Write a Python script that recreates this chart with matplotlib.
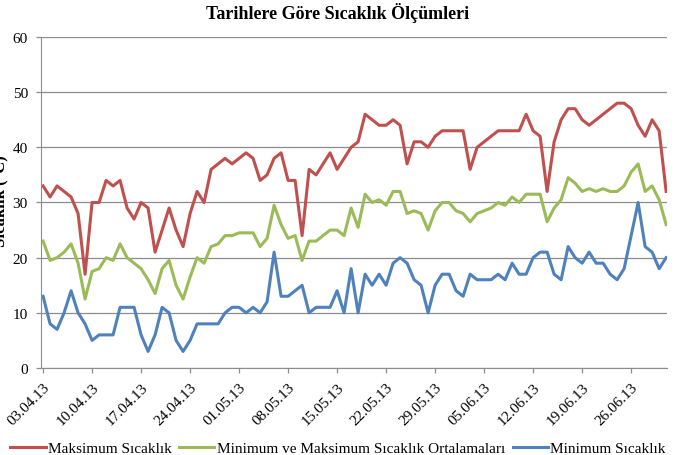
# Tarihlere göre sıcaklık ölçümleri (03.04.13 - 01.07.13)

import matplotlib
matplotlib.use("Agg")
import matplotlib.pyplot as plt
import matplotlib.dates as mdates
import pandas as pd

plt.rcParams['font.family'] = ['Liberation Serif', 'DejaVu Serif']

# günlük tarihler
tarih = pd.date_range("2013-04-03", "2013-07-01", freq="D")

maks = [33, 31, 33, 32, 31, 28, 17, 30, 30, 34, 33, 34, 29, 27, 30, 29,
        21, 25, 29, 25, 22, 28, 32, 30, 36, 37, 38, 37, 38, 39, 38, 34,
        35, 38, 39, 34, 34, 24, 36, 35, 37, 39, 36, 38, 40, 41, 46,
        45, 44, 44, 45, 44, 37, 41, 41, 40, 42, 43, 43, 43, 43, 36, 40,
        41, 42, 43, 43, 43, 43, 46, 43, 42, 32, 41, 45, 47, 47, 45, 44,
        45, 46, 47, 48, 48, 47, 44, 42, 45, 43, 32]

ort = [23, 19.5, 20, 21, 22.5, 19, 12.5, 17.5, 18, 20, 19.5, 22.5, 20, 19, 18, 16,
       13.5, 18, 19.5, 15, 12.5, 16.5, 20, 19, 22, 22.5, 24, 24, 24.5, 24.5, 24.5, 22,
       23.5, 29.5, 26, 23.5, 24, 19.5, 23, 23, 24, 25, 25, 24, 29, 25.5, 31.5,
       30, 30.5, 29.5, 32, 32, 28, 28.5, 28, 25, 28.5, 30, 30, 28.5, 28, 26.5, 28,
       28.5, 29, 30, 29.5, 31, 30, 31.5, 31.5, 31.5, 26.5, 29, 30.5, 34.5, 33.5, 32, 32.5,
       32, 32.5, 32, 32, 33, 35.5, 37, 32, 33, 30.5, 26]

mini = [13, 8, 7, 10, 14, 10, 8, 5, 6, 6, 6, 11, 11, 11, 6, 3,
        6, 11, 10, 5, 3, 5, 8, 8, 8, 8, 10, 11, 11, 10, 11, 10,
        12, 21, 13, 13, 14, 15, 10, 11, 11, 11, 14, 10, 18, 10, 17,
        15, 17, 15, 19, 20, 19, 16, 15, 10, 15, 17, 17, 14, 13, 17, 16,
        16, 16, 17, 16, 19, 17, 17, 20, 21, 21, 17, 16, 22, 20, 19, 21,
        19, 19, 17, 16, 18, 24, 30, 22, 21, 18, 20]

fig = plt.figure(figsize=(6.76, 4.56), dpi=100)
ax = fig.add_axes([0.0607, 0.1908, 0.9260, 0.7259])

ax.plot(tarih, maks, c='#C0504D', lw=2.2, label="Maksimum Sıcaklık")
ax.plot(tarih, ort, c='#9BBB59', lw=2.2, label="Minimum ve Maksimum Sıcaklık Ortalamaları")
ax.plot(tarih, mini, c='#4F81BD', lw=2.2, label="Minimum Sıcaklık")

ax.set_ylim(0, 60)
ax.set_yticks(range(0, 61, 10))
ax.set_xlim(tarih[0] - pd.Timedelta(hours=7), tarih[-1] + pd.Timedelta(hours=3))
ax.set_xticks(tarih[::7])
ax.xaxis.set_major_formatter(mdates.DateFormatter("%d.%m.%y"))
plt.setp(ax.get_xticklabels(), rotation=45, ha='right', va='top',
         rotation_mode='anchor')

ax.grid(axis='y', color='#8C8C8C', lw=0.9)
ax.set_axisbelow(True)
for s in ['top', 'right']:
    ax.spines[s].set_visible(False)
for s in ['left', 'bottom']:
    ax.spines[s].set_color('#8C8C8C')
ax.tick_params(axis='both', colors='#8C8C8C', labelcolor='black',
               labelsize=11, length=3.5, width=0.9)
ax.tick_params(axis='x', pad=5)
ax.tick_params(axis='y', pad=6)

fig.text(0.5, 0.972, "Tarihlere Göre Sıcaklık Ölçümleri", ha='center', va='center',
         fontsize=13, fontweight='bold')
fig.text(0.012, 0.56, "Sıcaklık (°C)", rotation=90, ha='right', va='center',
         fontsize=12, fontweight='bold')

fig.legend(loc='lower center', bbox_to_anchor=(0.5, -0.03), ncol=3, frameon=False,
           fontsize=11, handlelength=2.3, columnspacing=0.5, handletextpad=0.15)

fig.savefig("out.png", dpi=100)
